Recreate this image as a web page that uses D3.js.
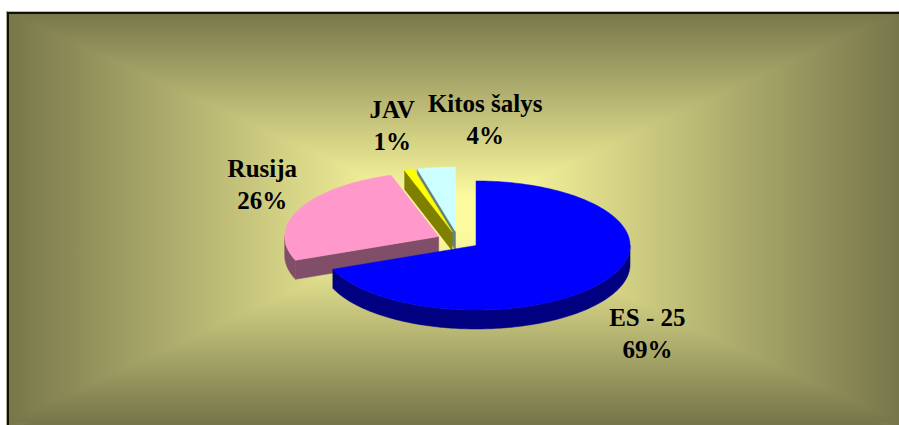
<!DOCTYPE html>
<html>
<head>
<meta charset="utf-8">
<script src="https://cdn.jsdelivr.net/npm/d3@7/dist/d3.min.js"></script>
<style>
	body { margin: 0; background: #fff; }
	svg { display: block; }
	.lbl { font-family: "Liberation Serif", "Times New Roman", serif; font-weight: bold; font-size: 25px; fill: #000; }
</style>
</head>
<body>
<div id="chart"></div>
<script>
// data
var categories = ["ES - 25", "Rusija", "JAV", "Kitos šalys"];
var values = [69, 26, 1, 4];

// styling / layout
var width = 899;
var height = 425;
var topColors = ["#0000ff", "#ff99cc", "#ffff00", "#ccffff"];
var sideColors = ["#000080", "#804e68", "#808000", "#668080"];
// label nudge from the slice's outer point (dx, dy of first baseline)
var labelNudge = [[44, 25], [-37, -32], [-17, -52], [49, -55]];
var lineGap = 32;

var frame = {x0: 7, y0: 12, x1: 899, y1: 422};
var center = [458.2, 240.4];
var rx = 154;
var ry = 64.5;
var depth = 19;
var explode = 0.14;

var svg = d3.select("#chart").append("svg")
	.attr("width", width)
	.attr("height", height);

var defs = svg.append("defs");

// rectangular "from center" gradient, built from four triangles
var gcx = (frame.x0 + frame.x1) / 2;
var gcy = (frame.y0 + frame.y1) / 2;
var edgeColor = "#77764a";
var midColor = "#fcfa9e";

var sides = [
	{id: "gL", x1: frame.x0, y1: 0, x2: gcx, y2: 0, pts: [[frame.x0, frame.y0], [gcx, gcy], [frame.x0, frame.y1 + 10]]},
	{id: "gR", x1: frame.x1, y1: 0, x2: gcx, y2: 0, pts: [[frame.x1, frame.y0], [gcx, gcy], [frame.x1, frame.y1 + 10]]},
	{id: "gT", x1: 0, y1: frame.y0, x2: 0, y2: gcy, pts: [[frame.x0, frame.y0], [gcx, gcy], [frame.x1, frame.y0]]},
	{id: "gB", x1: 0, y1: frame.y1, x2: 0, y2: gcy, pts: [[frame.x0, frame.y1], [gcx, gcy], [frame.x1, frame.y1]]}
];

sides.forEach(function(s) {
	var lg = defs.append("linearGradient")
		.attr("id", s.id)
		.attr("gradientUnits", "userSpaceOnUse")
		.attr("x1", s.x1).attr("y1", s.y1)
		.attr("x2", s.x2).attr("y2", s.y2);
	lg.append("stop").attr("offset", 0).attr("stop-color", edgeColor);
	lg.append("stop").attr("offset", 0.9).attr("stop-color", midColor);
	lg.append("stop").attr("offset", 1).attr("stop-color", midColor);
});

svg.append("rect")
	.attr("x", frame.x0).attr("y", frame.y0)
	.attr("width", width - frame.x0).attr("height", height - frame.y0)
	.attr("fill", edgeColor);

sides.forEach(function(s) {
	svg.append("path")
		.attr("d", "M" + s.pts.map(function(p) { return p.join(","); }).join("L") + "Z")
		.attr("fill", "url(#" + s.id + ")")
		.attr("stroke", "url(#" + s.id + ")")
		.attr("stroke-width", 1.2);
});

svg.append("rect")
	.attr("x", 8).attr("y", 13)
	.attr("width", width + 10).attr("height", height + 10)
	.attr("fill", "none")
	.attr("stroke", "#111108")
	.attr("stroke-width", 2);

// pie
var pie = d3.pie().sort(null).startAngle(0).endAngle(2 * Math.PI);
var arcs = pie(values);
var color = d3.scaleOrdinal().domain(categories).range(topColors);
var sideColor = d3.scaleOrdinal().domain(categories).range(sideColors);
var total = d3.sum(values);

var pt = function(c, a, dz) {
	return [c[0] + rx * Math.sin(a), c[1] - ry * Math.cos(a) + (dz || 0)];
};

var arcPoints = function(c, a0, a1, dz) {
	var n = Math.max(2, Math.ceil(Math.abs(a1 - a0) / 0.02));
	return d3.range(n + 1).map(function(i) { return pt(c, a0 + (a1 - a0) * i / n, dz); });
};

var line = d3.line();

arcs.forEach(function(d, i) {
	d.mid = (d.startAngle + d.endAngle) / 2;
	d.c = [center[0] + explode * rx * Math.sin(d.mid), center[1] - explode * ry * Math.cos(d.mid)];
	d.cat = categories[i];
});

// back to front
var order = arcs.slice().sort(function(a, b) { return -Math.cos(a.mid) - -Math.cos(b.mid); });

var radialVisible = function(a, interiorSign) {
	var dx = Math.sin(a) * rx, dy = -Math.cos(a) * ry;
	var ia = a + interiorSign * 0.001;
	var ix = Math.sin(ia) * rx, iy = -Math.cos(ia) * ry;
	var nx = -dy, ny = dx;
	if (nx * ix + ny * iy > 0) { nx = -nx; ny = -ny; }
	return ny > 0.0001;
};

var pieG = svg.append("g");

order.forEach(function(d) {
	var g = pieG.append("g");
	var c = d.c;
	var cb = [c[0], c[1] + depth];

	// radial cut faces
	[[d.startAngle, 1], [d.endAngle, -1]].forEach(function(e) {
		if (!radialVisible(e[0], e[1])) return;
		var p = pt(c, e[0]);
		g.append("path")
			.attr("d", line([c, p, [p[0], p[1] + depth], cb]) + "Z")
			.attr("fill", sideColor(d.cat))
			.attr("stroke", sideColor(d.cat))
			.attr("stroke-width", 0.5);
	});

	// outer wall (front half only)
	var w0 = Math.max(d.startAngle, Math.PI / 2);
	var w1 = Math.min(d.endAngle, 3 * Math.PI / 2);
	if (w1 > w0) {
		var topPts = arcPoints(c, w0, w1, 0);
		var botPts = arcPoints(c, w1, w0, depth);
		g.append("path")
			.attr("d", line(topPts.concat(botPts)) + "Z")
			.attr("fill", sideColor(d.cat))
			.attr("stroke", sideColor(d.cat))
			.attr("stroke-width", 0.5);
	}

	// top face
	g.append("path")
		.attr("d", line([c].concat(arcPoints(c, d.startAngle, d.endAngle, 0))) + "Z")
		.attr("fill", color(d.cat))
		.attr("stroke", color(d.cat))
		.attr("stroke-width", 0.5);
});

// labels
var labelG = svg.append("g");
arcs.forEach(function(d, i) {
	var front = -Math.cos(d.mid) > 0;
	var p = pt(d.c, d.mid, front ? depth : 0);
	var x = p[0] + labelNudge[i][0];
	var y = p[1] + labelNudge[i][1];
	var t = labelG.append("text")
		.attr("class", "lbl")
		.attr("text-anchor", "middle")
		.attr("x", x)
		.attr("y", y);
	t.append("tspan").attr("x", x).attr("y", y).text(d.cat);
	t.append("tspan").attr("x", x).attr("y", y + lineGap).text(Math.round(d.value / total * 100) + "%");
});
</script>
</body>
</html>
